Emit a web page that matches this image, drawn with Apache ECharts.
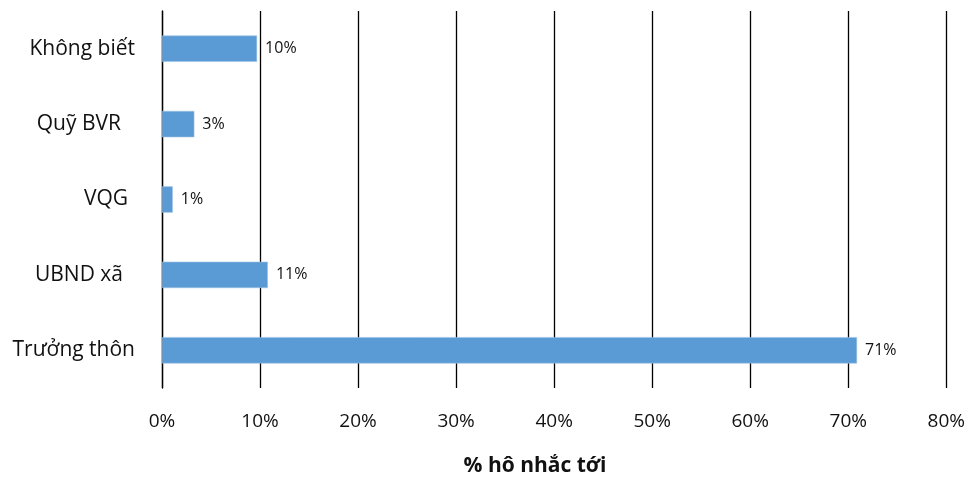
<!DOCTYPE html>
<html>
<head>
<meta charset="utf-8">
<script src="https://cdn.jsdelivr.net/npm/echarts@6/dist/echarts.min.js"></script>
<style>
  html, body { margin: 0; padding: 0; background: #fff; }
  #chart { width: 968px; height: 479px; }
</style>
</head>
<body>
<div id="chart"></div>
<script>
// Categories listed bottom-to-top (category axis on the left runs upward)
const categories = ['Trưởng thôn', 'UBND xã', 'VQG', 'Quỹ BVR', 'Không biết'];
// Share of households mentioning each source, in percent
const shares = [70.9, 10.8, 1.1, 3.3, 9.7];
const xTicks = [0, 10, 20, 30, 40, 50, 60, 70, 80];
const axisTitle = '% hô nhắc tới';

const FONT = '"Open Sans", "Noto Sans", sans-serif';

// Extra right-hand inset for some category labels
const labelInset = { 'UBND xã': 12, 'VQG': 7, 'Quỹ BVR': 14 };
const richStyles = {};
categories.forEach((c, i) => {
  richStyles['c' + i] = {
    color: '#111',
    fontFamily: FONT,
    fontSize: 21,
    padding: [0, labelInset[c] || 0, 0, 0]
  };
});

const chart = echarts.init(document.getElementById('chart'));

chart.setOption({
  animation: false,
  backgroundColor: '#ffffff',
  grid: { left: 162, right: 20, top: 11, bottom: 91 },
  xAxis: {
    type: 'value',
    min: xTicks[0],
    max: xTicks[xTicks.length - 1],
    interval: 10,
    axisLine: { show: false },
    axisTick: { show: false },
    splitLine: { show: true, lineStyle: { color: '#000', width: 1.3 } },
    axisLabel: {
      formatter: v => v + '%',
      color: '#111',
      fontFamily: FONT,
      fontSize: 19,
      margin: 24
    }
  },
  yAxis: {
    type: 'category',
    data: categories,
    axisLine: { show: true, lineStyle: { color: '#000', width: 1.3 } },
    axisTick: { show: false },
    axisLabel: {
      formatter: (v, i) => '{c' + i + '|' + v + '}',
      rich: richStyles,
      margin: 27
    }
  },
  series: [{
    type: 'bar',
    data: shares,
    barWidth: '35%',
    itemStyle: { color: '#5B9BD5', borderColor: '#9DC3E6', borderWidth: 0.6 },
    label: {
      show: true,
      position: 'right',
      distance: 8,
      formatter: p => Math.round(p.value) + '%',
      color: '#111',
      fontFamily: FONT,
      fontSize: 16
    }
  }],
  graphic: [{
    type: 'text',
    x: 535,
    y: 456,
    style: {
      text: axisTitle,
      textAlign: 'center',
      fill: '#111',
      fontFamily: FONT,
      fontWeight: 'bold',
      fontSize: 21
    }
  }]
});
</script>
</body>
</html>
